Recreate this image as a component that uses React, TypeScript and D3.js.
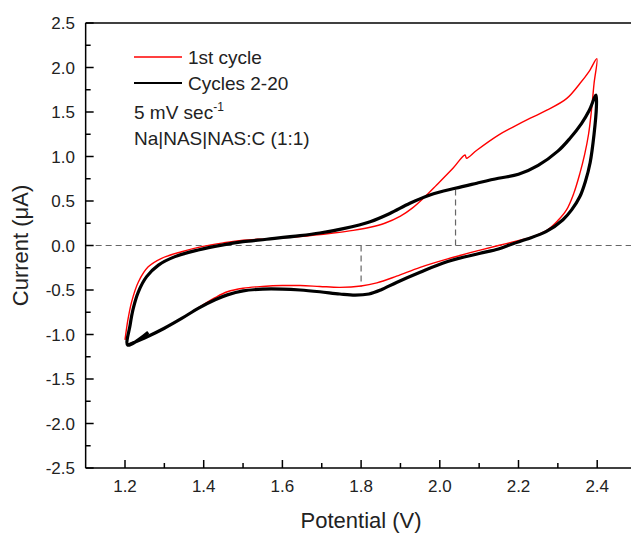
import React from "react";
import * as d3 from "d3";

const W = 631;
const H = 533;

// Cycle 1 (red): [potential V, current µA]
const firstCycle: [number, number][] = [
  [1.2, -1.06], [1.204, -0.93], [1.208, -0.82], [1.217, -0.63], [1.234, -0.41], [1.259, -0.24],
  [1.293, -0.144], [1.344, -0.07], [1.395, -0.013], [1.45, 0.03], [1.5, 0.06], [1.56, 0.075],
  [1.645, 0.1], [1.729, 0.14], [1.78, 0.17], [1.823, 0.205], [1.86, 0.25], [1.9, 0.33],
  [1.93, 0.42], [1.958, 0.53], [1.992, 0.68], [2.034, 0.87], [2.064, 1.017], [2.068, 0.98],
  [2.094, 1.07], [2.149, 1.24], [2.186, 1.33], [2.23, 1.43], [2.272, 1.52], [2.322, 1.65],
  [2.356, 1.82], [2.38, 1.96], [2.399, 2.1],
  [2.392, 1.82], [2.385, 1.5], [2.378, 1.25], [2.368, 1.02], [2.356, 0.81], [2.34, 0.58],
  [2.322, 0.4], [2.3, 0.28], [2.272, 0.17], [2.23, 0.09], [2.186, 0.04], [2.149, 0.0],
  [2.1, -0.055], [2.02, -0.15], [1.95, -0.245], [1.89, -0.345], [1.84, -0.42], [1.8, -0.455],
  [1.746, -0.47], [1.695, -0.46], [1.645, -0.45], [1.6, -0.45], [1.55, -0.46], [1.5, -0.48],
  [1.46, -0.52], [1.429, -0.586], [1.386, -0.7], [1.344, -0.82], [1.3, -0.93], [1.259, -1.02],
  [1.207, -1.11],
];

// Cycles 2-20 (black)
const laterCycles: [number, number][] = [
  [1.259, -0.975], [1.207, -1.12],
  [1.213, -0.893], [1.221, -0.706], [1.234, -0.52], [1.255, -0.35], [1.285, -0.22], [1.327, -0.125],
  [1.386, -0.05], [1.446, 0.005], [1.5, 0.043], [1.56, 0.07], [1.645, 0.11], [1.695, 0.14],
  [1.755, 0.19], [1.823, 0.268], [1.873, 0.36], [1.924, 0.474], [1.975, 0.567], [2.039, 0.643],
  [2.094, 0.7], [2.149, 0.755], [2.2, 0.8], [2.25, 0.9], [2.3, 1.06], [2.33, 1.2],
  [2.36, 1.37], [2.38, 1.52], [2.397, 1.69],
  [2.398, 1.56], [2.392, 1.25], [2.382, 0.93], [2.37, 0.72], [2.356, 0.55], [2.335, 0.4],
  [2.313, 0.29], [2.27, 0.155], [2.22, 0.07], [2.186, 0.02], [2.149, -0.04], [2.1, -0.09],
  [2.02, -0.18], [1.95, -0.3], [1.89, -0.415], [1.85, -0.5], [1.82, -0.545], [1.785, -0.558],
  [1.746, -0.545], [1.695, -0.52], [1.645, -0.5], [1.6, -0.49], [1.55, -0.49], [1.5, -0.51],
  [1.46, -0.555], [1.429, -0.61], [1.386, -0.706], [1.344, -0.82], [1.3, -0.93], [1.259, -1.02],
  [1.207, -1.12],
];

const xTicks = [1.2, 1.4, 1.6, 1.8, 2.0, 2.2, 2.4];
const xMinorTicks = [1.3, 1.5, 1.7, 1.9, 2.1, 2.3];
const yTicks = [-2.5, -2.0, -1.5, -1.0, -0.5, 0.0, 0.5, 1.0, 1.5, 2.0, 2.5];
const yMinorTicks = [-2.25, -1.75, -1.25, -0.75, -0.25, 0.25, 0.75, 1.25, 1.75, 2.25];

// Peak marker positions (dashed guides)
const cathodicPeak: [number, number] = [1.8, -0.46];
const anodicPeak: [number, number] = [2.04, 0.63];

const FONT = "Arial, 'Liberation Sans', sans-serif";

export default function App() {
  const x = d3.scaleLinear().domain([1.2, 2.4]).range([125, 597.2]);
  const y = d3.scaleLinear().domain([-2.5, 2.5]).range([468, 23]);
  const x0 = x(1.1);
  const x1 = x(2.5);
  const yB = y(-2.5);
  const yT = y(2.5);

  const line = d3
    .line<[number, number]>()
    .x((d) => x(d[0]))
    .y((d) => y(d[1]))
    .curve(d3.curveCatmullRom.alpha(0.5));

  return (
    <svg
      width={W}
      height={H}
      style={{ position: "absolute", left: 0, top: 0, background: "#fff" }}
      fontFamily={FONT}
    >
      <rect x={0} y={0} width={W} height={H} fill="#fff" />
      {/* zero line */}
      <line x1={x0} x2={x1} y1={y(0)} y2={y(0)} stroke="#666" strokeWidth={1.2} strokeDasharray="6,4" />
      <line
        x1={x(cathodicPeak[0])}
        x2={x(cathodicPeak[0])}
        y1={y(0)}
        y2={y(cathodicPeak[1])}
        stroke="#666"
        strokeWidth={1.2}
        strokeDasharray="6,4"
      />
      <line
        x1={x(anodicPeak[0])}
        x2={x(anodicPeak[0])}
        y1={y(0)}
        y2={y(anodicPeak[1])}
        stroke="#666"
        strokeWidth={1.2}
        strokeDasharray="6,4"
      />

      <path d={line(firstCycle) || ""} fill="none" stroke="#ff0000" strokeWidth={1.4} strokeLinejoin="round" />
      <path d={line(laterCycles) || ""} fill="none" stroke="#000" strokeWidth={3.2} strokeLinejoin="round" />

      {/* frame */}
      <line x1={x0} x2={x1} y1={yT} y2={yT} stroke="#000" strokeWidth={1.5} />
      <line x1={x0} x2={x1} y1={yB} y2={yB} stroke="#000" strokeWidth={1.5} />
      <line x1={x0} x2={x0} y1={yT} y2={yB} stroke="#000" strokeWidth={1.5} />

      {/* x ticks */}
      {xTicks.map((t) => (
        <g key={"xt" + t}>
          <line x1={x(t)} x2={x(t)} y1={yB} y2={yB - 8} stroke="#000" strokeWidth={1.5} />
          <text x={x(t)} y={yB + 24} textAnchor="middle" fontSize={17} fill="#222">
            {t.toFixed(1)}
          </text>
        </g>
      ))}
      {xMinorTicks.map((t) => (
        <line key={"xm" + t} x1={x(t)} x2={x(t)} y1={yB} y2={yB - 5} stroke="#000" strokeWidth={1.5} />
      ))}
      {/* y ticks */}
      {yTicks.map((t) => (
        <g key={"yt" + t}>
          <line x1={x0} x2={x0 + 8} y1={y(t)} y2={y(t)} stroke="#000" strokeWidth={1.5} />
          <text x={75} y={y(t) + 6} textAnchor="end" fontSize={17} fill="#222">
            {t.toFixed(1)}
          </text>
        </g>
      ))}
      {yMinorTicks.map((t) => (
        <line key={"ym" + t} x1={x0} x2={x0 + 5} y1={y(t)} y2={y(t)} stroke="#000" strokeWidth={1.5} />
      ))}

      {/* axis titles */}
      <text x={(x0 + x1) / 2} y={528} textAnchor="middle" fontSize={22} fill="#222">
        Potential (V)
      </text>
      <text
        transform={`translate(28, ${(yT + yB) / 2}) rotate(-90)`}
        textAnchor="middle"
        fontSize={22}
        fill="#222"
      >
        Current (μA)
      </text>

      {/* legend */}
      <line x1={134} x2={182} y1={57} y2={57} stroke="#ff0000" strokeWidth={1.6} />
      <text x={188} y={64} fontSize={19} fill="#222">1st cycle</text>
      <line x1={134} x2={182} y1={83} y2={83} stroke="#000" strokeWidth={2} />
      <text x={188} y={90} fontSize={19} fill="#222">Cycles 2-20</text>
      <text x={134} y={119} fontSize={19} fill="#222">
        5 mV sec
        <tspan fontSize={12} dy={-8}>-1</tspan>
      </text>
      <text x={134} y={145} fontSize={19} fill="#222">Na|NAS|NAS:C (1:1)</text>
    </svg>
  );
}
